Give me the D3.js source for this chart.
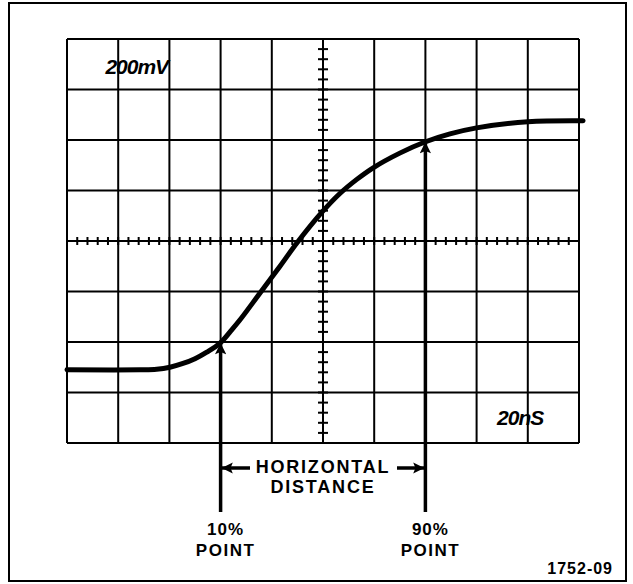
<!DOCTYPE html>
<html>
<head>
<meta charset="utf-8">
<script src="https://cdn.jsdelivr.net/npm/d3@7"></script>
<style>
body { margin:0; background:#fff; }
text { font-family:"Liberation Sans", Arial, sans-serif; fill:#000; }
</style>
</head>
<body>
<div id="chart"></div>
<script>
// waveform, in divisions (x: time, y: volts)
var wave_t = [0, 1.43, 1.75, 2.01, 2.25, 2.5, 2.73, 2.99, 3.2, 3.38, 3.77, 4.16, 4.49, 4.98, 5.33, 5.66, 5.98, 6.5, 6.99, 7.48, 8.0, 9.0, 10.08];
var wave_v = [1.45, 1.45, 1.46, 1.50, 1.57, 1.67, 1.80, 1.98, 2.22, 2.44, 2.97, 3.50, 3.96, 4.57, 4.94, 5.22, 5.45, 5.74, 5.96, 6.12, 6.24, 6.36, 6.38];
var div_x = d3.range(0, 11);
var div_y = d3.range(0, 9);
var sub_ticks = d3.range(0, 10.01, 0.2);
var sub_ticks_y = d3.range(0, 8.01, 0.2);
// 10% and 90% marks, in divisions
var mark_t = [3.0, 7.0];
var mark_v = [1.98, 5.96];
var mark_labels = ['10%', '90%'];
var volts_label = '200mV';
var time_label = '20nS';
var fig_label = '1752-09';

var width = 633, height = 584;
var x = d3.scaleLinear().domain([0, 10]).range([67, 579]);
var y = d3.scaleLinear().domain([0, 8]).range([443, 39]);

var svg = d3.select('#chart').append('svg')
	.attr('width', width)
	.attr('height', height);

svg.append('defs').append('marker')
	.attr('id', 'head')
	.attr('viewBox', '0 0 10 10')
	.attr('refX', 10).attr('refY', 5)
	.attr('markerWidth', 4.2).attr('markerHeight', 3.2)
	.attr('markerUnits', 'strokeWidth')
	.attr('orient', 'auto')
	.append('path')
	.attr('d', 'M0,0 L10,5 L0,10 L2,5 Z')
	.attr('fill', '#000');

// outer box
svg.append('rect')
	.attr('x', 9).attr('y', 3)
	.attr('width', 617).attr('height', 578)
	.attr('fill', 'none')
	.attr('stroke', '#000')
	.attr('stroke-width', 2);

// graticule
var grid = svg.append('g').attr('stroke', '#000').attr('stroke-width', 2);
grid.selectAll('.vx').data(div_x).enter().append('line')
	.attr('x1', function(d){ return x(d); })
	.attr('x2', function(d){ return x(d); })
	.attr('y1', y(0)).attr('y2', y(8));
grid.selectAll('.hy').data(div_y).enter().append('line')
	.attr('y1', function(d){ return y(d); })
	.attr('y2', function(d){ return y(d); })
	.attr('x1', x(0)).attr('x2', x(10));

// minor ticks on the centre axes
grid.selectAll('.tx').data(sub_ticks).enter().append('line')
	.attr('x1', function(d){ return x(d); })
	.attr('x2', function(d){ return x(d); })
	.attr('y1', y(4) - 4).attr('y2', y(4) + 4);
grid.selectAll('.ty').data(sub_ticks_y).enter().append('line')
	.attr('y1', function(d){ return y(d); })
	.attr('y2', function(d){ return y(d); })
	.attr('x1', x(5) - 5).attr('x2', x(5) + 5);

// trace
var pts = wave_t.map(function(t, i){ return [t, wave_v[i]]; });
var line = d3.line()
	.x(function(d){ return x(d[0]); })
	.y(function(d){ return y(d[1]); })
	.curve(d3.curveCatmullRom.alpha(0.5));
svg.append('path')
	.datum(pts)
	.attr('d', line)
	.attr('fill', 'none')
	.attr('stroke', '#000')
	.attr('stroke-width', 5)
	.attr('stroke-linecap', 'round');

// scale labels
svg.append('text')
	.attr('x', x(0.75)).attr('y', y(7.3))
	.attr('font-size', 21)
	.attr('font-weight', 'bold')
	.attr('font-style', 'italic')
	.attr('letter-spacing', -1)
	.text(volts_label);
svg.append('text')
	.attr('x', x(8.4)).attr('y', y(0.35))
	.attr('font-size', 21)
	.attr('font-weight', 'bold')
	.attr('font-style', 'italic')
	.attr('letter-spacing', -1)
	.text(time_label);

// pointer arrows
var arrows = svg.append('g');
arrows.selectAll('line').data(mark_t).enter().append('line')
	.attr('x1', function(d){ return x(d); })
	.attr('x2', function(d){ return x(d); })
	.attr('y1', 512)
	.attr('y2', function(d, i){ return y(mark_v[i]); })
	.attr('stroke', '#000')
	.attr('stroke-width', 3.5)
	.attr('marker-end', 'url(#head)');

arrows.append('line')
	.attr('x1', 250).attr('x2', x(mark_t[0]) + 1)
	.attr('y1', 468).attr('y2', 468)
	.attr('stroke', '#000').attr('stroke-width', 3.5)
	.attr('marker-end', 'url(#head)');
arrows.append('line')
	.attr('x1', 397).attr('x2', x(mark_t[1]) - 1)
	.attr('y1', 468).attr('y2', 468)
	.attr('stroke', '#000').attr('stroke-width', 3.5)
	.attr('marker-end', 'url(#head)');

svg.append('text')
	.attr('x', x(5)).attr('y', 473)
	.attr('text-anchor', 'middle')
	.attr('font-size', 18).attr('font-weight', 'bold')
	.attr('letter-spacing', 1.8)
	.text('HORIZONTAL');
svg.append('text')
	.attr('x', x(5)).attr('y', 493)
	.attr('text-anchor', 'middle')
	.attr('font-size', 18).attr('font-weight', 'bold')
	.attr('letter-spacing', 1.8)
	.text('DISTANCE');

var marks = svg.selectAll('.mark').data(mark_labels).enter().append('g');
marks.append('text')
	.attr('x', function(d, i){ return x(mark_t[i]) + 5; })
	.attr('y', 535)
	.attr('text-anchor', 'middle')
	.attr('font-size', 17).attr('font-weight', 'bold')
	.attr('letter-spacing', 1)
	.text(function(d){ return d; });
marks.append('text')
	.attr('x', function(d, i){ return x(mark_t[i]) + 5; })
	.attr('y', 556)
	.attr('text-anchor', 'middle')
	.attr('font-size', 17).attr('font-weight', 'bold')
	.attr('letter-spacing', 1.5)
	.text('POINT');

svg.append('text')
	.attr('x', 613).attr('y', 574)
	.attr('text-anchor', 'end')
	.attr('font-size', 16).attr('font-weight', 'bold')
	.attr('letter-spacing', 1)
	.text(fig_label);
</script>
</body>
</html>
